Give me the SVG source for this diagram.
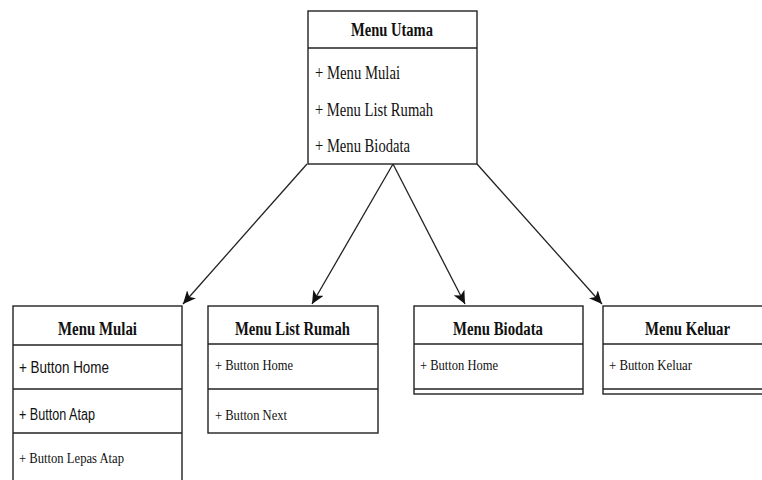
<svg xmlns="http://www.w3.org/2000/svg" width="762" height="480" viewBox="0 0 762 480">
  <style>
    .box { fill: #ffffff; stroke: #222222; stroke-width: 1.4; }
    .sep { stroke: #222222; stroke-width: 1.4; fill: none; }
    .head { font-family: "Liberation Serif", "Times New Roman", serif; font-weight: bold; font-size: 18px; fill: #111111; }
    .item { font-family: "Liberation Serif", "Times New Roman", serif; font-size: 18px; fill: #111111; }
    .small { font-family: "Liberation Serif", "Times New Roman", serif; font-size: 15px; fill: #111111; }
    .sans { font-family: "Liberation Sans", Arial, sans-serif; font-size: 16px; fill: #111111; }
    .link { stroke: #222222; stroke-width: 1.3; fill: none; marker-end: url(#arrow); }
  </style>
  <defs>
    <marker id="arrow" markerUnits="userSpaceOnUse" markerWidth="14" markerHeight="12" viewBox="0 0 14 12" refX="13" refY="6" orient="auto">
      <path d="M0,0 L13,6 L0,12 L3.5,6 Z" fill="#111111"/>
    </marker>
  </defs>

  <rect width="762" height="480" fill="#ffffff"/>

  <!-- connectors -->
  <g id="connectors">
    <line class="link" x1="307" y1="164" x2="183" y2="304"/>
    <line class="link" x1="393" y1="164" x2="312" y2="304"/>
    <line class="link" x1="393" y1="164" x2="465" y2="304"/>
    <line class="link" x1="477" y1="164" x2="602" y2="304"/>
  </g>

  <!-- Menu Utama -->
  <g id="menu-utama">
    <rect class="box" x="308" y="11" width="169" height="153"/>
    <line class="sep" x1="308" y1="48" x2="477" y2="48"/>
    <text class="head" x="351" y="36" textLength="82" lengthAdjust="spacingAndGlyphs">Menu Utama</text>
    <text class="item" x="315" y="79" textLength="85" lengthAdjust="spacingAndGlyphs">+ Menu Mulai</text>
    <text class="item" x="315" y="116" textLength="118" lengthAdjust="spacingAndGlyphs">+ Menu List Rumah</text>
    <text class="item" x="315" y="152" textLength="95" lengthAdjust="spacingAndGlyphs">+ Menu Biodata</text>
  </g>

  <!-- Menu Mulai -->
  <g id="menu-mulai">
    <rect class="box" x="13" y="306" width="169" height="190"/>
    <line class="sep" x1="13" y1="345" x2="182" y2="345"/>
    <line class="sep" x1="13" y1="389" x2="182" y2="389"/>
    <line class="sep" x1="13" y1="433" x2="182" y2="433"/>
    <text class="head" x="58" y="335" textLength="79" lengthAdjust="spacingAndGlyphs">Menu Mulai</text>
    <text class="sans" x="19" y="373" textLength="90" lengthAdjust="spacingAndGlyphs">+ Button Home</text>
    <text class="sans" x="19" y="420" textLength="76" lengthAdjust="spacingAndGlyphs">+ Button Atap</text>
    <text class="small" x="19" y="463" font-size="14" textLength="105" lengthAdjust="spacingAndGlyphs">+ Button Lepas Atap</text>
  </g>

  <!-- Menu List Rumah -->
  <g id="menu-list-rumah">
    <rect class="box" x="208" y="306" width="170" height="127"/>
    <line class="sep" x1="208" y1="344" x2="378" y2="344"/>
    <line class="sep" x1="208" y1="389" x2="378" y2="389"/>
    <text class="head" x="235" y="335" textLength="115" lengthAdjust="spacingAndGlyphs">Menu List Rumah</text>
    <text class="small" x="215" y="370" textLength="78" lengthAdjust="spacingAndGlyphs">+ Button Home</text>
    <text class="small" x="215" y="420" textLength="72" lengthAdjust="spacingAndGlyphs">+ Button Next</text>
  </g>

  <!-- Menu Biodata -->
  <g id="menu-biodata">
    <rect class="box" x="414" y="306" width="169" height="88"/>
    <line class="sep" x1="414" y1="344" x2="583" y2="344"/>
    <line class="sep" x1="414" y1="389" x2="583" y2="389"/>
    <text class="head" x="453" y="335" textLength="90" lengthAdjust="spacingAndGlyphs">Menu Biodata</text>
    <text class="small" x="420" y="370" textLength="78" lengthAdjust="spacingAndGlyphs">+ Button Home</text>
  </g>

  <!-- Menu Keluar -->
  <g id="menu-keluar">
    <rect class="box" x="603" y="306" width="169" height="88"/>
    <line class="sep" x1="603" y1="344" x2="772" y2="344"/>
    <line class="sep" x1="603" y1="389" x2="772" y2="389"/>
    <text class="head" x="645" y="335" textLength="85" lengthAdjust="spacingAndGlyphs">Menu Keluar</text>
    <text class="small" x="609" y="370" textLength="83" lengthAdjust="spacingAndGlyphs">+ Button Keluar</text>
  </g>
</svg>
